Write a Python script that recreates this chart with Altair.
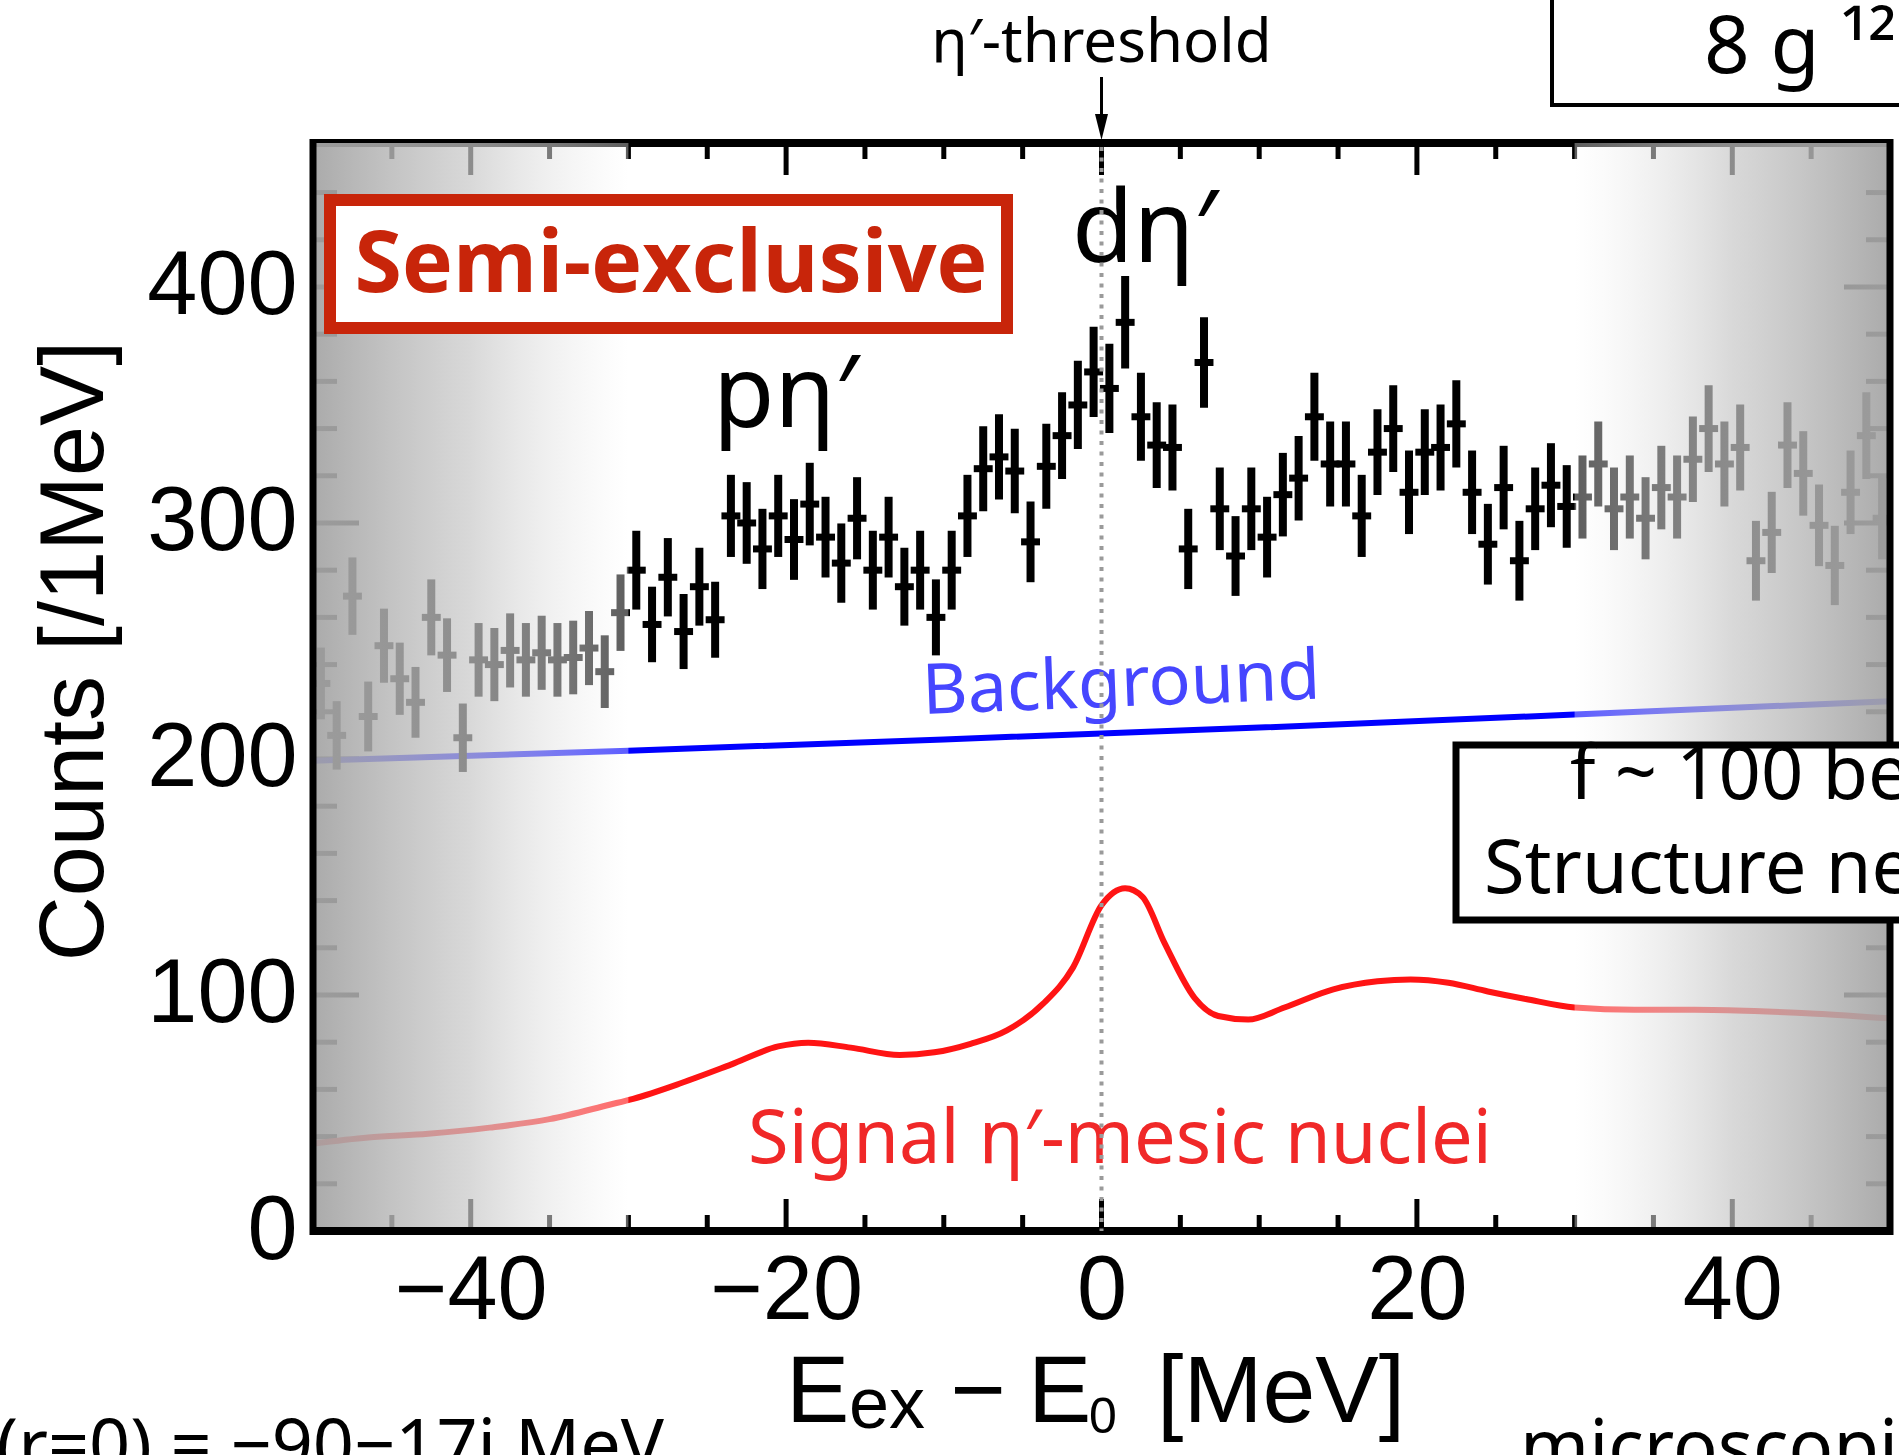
import altair as alt
import pandas as pd

# ---------------- data ----------------
BIN_LOW = -50.0      # first bin lower edge [MeV]
BIN_WIDTH = 1.0      # [MeV]
counts = [
    232, 210, 269, 218, 248, 234, 224, 260, 244, 209,
    242, 240, 246, 242, 245, 242, 243, 247, 237, 262,
    280, 257, 277, 254, 273, 259, 303, 300, 289, 303,
    293, 308, 294, 283, 302, 280, 294, 273, 280, 260,
    280, 303, 323, 328, 322, 292, 324, 337, 350, 364,
    357, 385, 345, 333, 332, 289, 368, 306, 286, 306,
    294, 312, 319, 345, 325, 325, 303, 330, 340, 313,
    330, 332, 342, 313, 291, 315, 284, 306, 316, 307,
    311, 325, 306, 311, 302, 315, 311, 327, 340, 325,
    332, 284, 296, 333, 321, 299, 282, 313, 337, 302,
]
errors = [
    15.2, 14.5, 16.4, 14.8, 15.7, 15.3, 15.0, 16.1, 15.6, 14.5,
    15.6, 15.5, 15.7, 15.6, 15.7, 15.6, 15.6, 15.7, 15.4, 16.2,
    16.7, 16.0, 16.6, 15.9, 16.5, 16.1, 17.4, 17.3, 17.0, 17.4,
    17.1, 17.5, 17.1, 16.8, 17.4, 16.7, 17.1, 16.5, 16.7, 16.1,
    16.7, 17.4, 18.0, 18.1, 17.9, 17.1, 18.0, 18.4, 18.7, 19.1,
    18.9, 19.6, 18.6, 18.2, 18.2, 17.0, 19.2, 17.5, 16.9, 17.5,
    17.1, 17.7, 17.9, 18.6, 18.0, 18.0, 17.4, 18.2, 18.4, 17.7,
    18.2, 18.2, 18.5, 17.7, 17.1, 17.7, 16.9, 17.5, 17.8, 17.5,
    17.6, 18.0, 17.5, 17.6, 17.4, 17.7, 17.6, 18.1, 18.4, 18.0,
    18.2, 16.9, 17.2, 18.2, 17.9, 17.3, 16.8, 17.7, 18.4, 17.4,
]

bg_energy = [-50, -30, -10, 10, 30, 50]
bg_counts = [199.3, 203.5, 208.3, 213.3, 218.8, 224.5]

sig_energy = [-50, -46.5, -42.7, -38.8, -35, -31.2, -29.7, -26.6, -23.5, -20.5,
              -18.6, -15.9, -12.8, -10.6, -8.3, -6, -3.7, -1.8, 0, 1.5,
              2.6, 4, 5.9, 7.4, 9.3, 11.6, 14.7, 17.5, 19.6, 22,
              24.5, 26.9, 30, 33.8, 37.6, 41.4, 45.3, 50]
sig_counts = [37, 39.6, 41.2, 43.8, 47.4, 53.5, 56, 62.8, 70.5, 78.2,
              79.8, 77.7, 74.6, 75.7, 79.3, 85, 96.3, 111.7, 138, 145.2,
              141.6, 122, 98.8, 91.1, 89.6, 94.7, 102.4, 105.8, 106.6, 105.2,
              101.5, 98.3, 94.7, 93.7, 93.7, 93.2, 92.1, 90.1]

x_labels = [-40, -20, 0, 20, 40]
y_labels = [0, 100, 200, 300, 400]
x_major = [-40, -20, 0, 20, 40]
x_minor = [-45, -35, -30, -25, -15, -10, -5, 5, 10, 15, 25, 30, 35, 45]
y_major = [100, 200, 300, 400]
y_minor = [20, 40, 60, 80, 120, 140, 160, 180, 220, 240, 260, 280,
           320, 340, 360, 380, 420, 440]
shade_left = [-50, -30]
shade_right = [30, 50]
threshold = [0]

# ---------------- layout / style ----------------
W, H = 1577, 1088
PAD_L, PAD_T = 313, 143
XS = alt.Scale(domain=[-50, 50], nice=False, zero=False)
YS = alt.Scale(domain=[0, 461], nice=False, zero=False)
NUMFONT = "Liberation Sans"
TXTFONT = "Noto Sans"
AX = alt.Axis(values=x_labels, title=None, domain=False, ticks=False, grid=False,
              labelFont=NUMFONT, labelFontSize=90, labelColor="black",
              labelPadding=16, labelFlush=False, labelOverlap=False)
AY = alt.Axis(values=y_labels, title=None, domain=False, ticks=False, grid=False,
              labelFont=NUMFONT, labelFontSize=90, labelColor="black",
              labelPadding=16, labelFlush=False, labelOverlap=False)


def X(f):
    return alt.X(f, type="quantitative", scale=XS, axis=AX)


def Y(f):
    return alt.Y(f, type="quantitative", scale=YS, axis=AY)


energy = [BIN_LOW + BIN_WIDTH * (i + 0.5) for i in range(len(counts))]
df = pd.DataFrame({"E": energy, "N": counts, "err": errors})
df["lo"] = df["N"] - df["err"]
df["hi"] = df["N"] + df["err"]
df["xl"] = df["E"] - 0.6 * BIN_WIDTH
df["xr"] = df["E"] + 0.6 * BIN_WIDTH

bg_df = pd.DataFrame({"E": bg_energy, "N": bg_counts})
sig_df = pd.DataFrame({"E": sig_energy, "N": sig_counts})
thr_df = pd.DataFrame({"E": threshold})
one = pd.DataFrame({"k": [0]})

layers = []

# ticks (inward), drawn beneath the shading
for vals, ln in ((x_major, 32), (x_minor, 16)):
    d = pd.DataFrame({"t": vals})
    layers.append(alt.Chart(d).mark_rule(color="black", strokeWidth=5).encode(
        x=X("t"), y=alt.value(H), y2=alt.value(H - ln)))
    layers.append(alt.Chart(d).mark_rule(color="black", strokeWidth=5).encode(
        x=X("t"), y=alt.value(0), y2=alt.value(ln)))
for vals, ln in ((y_major, 46), (y_minor, 24)):
    d = pd.DataFrame({"t": vals})
    layers.append(alt.Chart(d).mark_rule(color="black", strokeWidth=5).encode(
        y=Y("t"), x=alt.value(0), x2=alt.value(ln)))
    layers.append(alt.Chart(d).mark_rule(color="black", strokeWidth=5).encode(
        y=Y("t"), x=alt.value(W), x2=alt.value(W - ln)))

# top frame line
layers.append(alt.Chart(one).mark_rule(color="black", strokeWidth=8).encode(
    x=alt.value(-3), x2=alt.value(W + 3), y=alt.value(0)))

# background & signal curves
layers.append(alt.Chart(bg_df).mark_line(color="#0000ff", strokeWidth=6).encode(
    x=X("E"), y=Y("N")))
layers.append(alt.Chart(sig_df).mark_line(color="#ff1414", strokeWidth=6,
                                          interpolate="monotone").encode(
    x=X("E"), y=Y("N")))

# data with error bars
layers.append(alt.Chart(df).mark_rule(color="black", strokeWidth=8).encode(
    x=X("E"), y=Y("lo"), y2="hi"))
layers.append(alt.Chart(df).mark_rule(color="black", strokeWidth=7).encode(
    x=X("xl"), x2="xr", y=Y("N")))

# fading shaded regions at both ends
grad_left = {"gradient": "linear", "x1": 0, "y1": 0, "x2": 1, "y2": 0,
             "stops": [{"offset": 0, "color": "rgba(165,165,165,0.94)"},
                       {"offset": 0.5, "color": "rgba(200,200,200,0.70)"},
                       {"offset": 1, "color": "rgba(255,255,255,0.37)"}]}
grad_right = {"gradient": "linear", "x1": 0, "y1": 0, "x2": 1, "y2": 0,
              "stops": [{"offset": 0, "color": "rgba(255,255,255,0.37)"},
                        {"offset": 0.5, "color": "rgba(200,200,200,0.70)"},
                        {"offset": 1, "color": "rgba(165,165,165,0.94)"}]}
for rng, g in ((shade_left, grad_left), (shade_right, grad_right)):
    d = pd.DataFrame({"a": [rng[0]], "b": [rng[1]]})
    layers.append(alt.Chart(d).mark_rect(fill=g, strokeWidth=0).encode(
        x=X("a"), x2="b", y=alt.value(0), y2=alt.value(H)))

# frame: left, right, bottom on top
layers.append(alt.Chart(one).mark_rule(color="black", strokeWidth=7).encode(
    x=alt.value(0), y=alt.value(-4), y2=alt.value(H + 4)))
layers.append(alt.Chart(one).mark_rule(color="black", strokeWidth=7).encode(
    x=alt.value(W), y=alt.value(-4), y2=alt.value(H + 4)))
layers.append(alt.Chart(one).mark_rule(color="black", strokeWidth=8).encode(
    x=alt.value(-3), x2=alt.value(W + 3), y=alt.value(H)))


def txt(text, x, y, size, color="black", font=TXTFONT, align="left",
        angle=None, weight=None):
    kw = dict(text=text, font=font, fontSize=size, color=color, align=align,
              baseline="alphabetic")
    if angle is not None:
        kw["angle"] = angle
    if weight is not None:
        kw["fontWeight"] = weight
    return alt.Chart(one).mark_text(**kw).encode(x=alt.value(x), y=alt.value(y))


# annotations inside the plot
layers.append(txt("Background", 610, 571, 70, color="#4646ff", angle=357.8))
layers.append(txt("Signal η′-mesic nuclei", 435, 1020, 74, color="#f02828"))
layers.append(txt("pη′", 400, 284, 100))
layers.append(txt("dη′", 759, 119, 100))

# dotted threshold line
layers.append(alt.Chart(thr_df).mark_rule(color="#9a9a9a", strokeWidth=4,
                                          strokeDash=[4, 6.5]).encode(
    x=X("E"), y=alt.value(4), y2=alt.value(H)))

# Semi-exclusive box
layers.append(alt.Chart(one).mark_rect(fill="white", stroke="#c8250a",
                                       strokeWidth=12).encode(
    x=alt.value(17), x2=alt.value(694), y=alt.value(57), y2=alt.value(185)))
layers.append(txt("Semi-exclusive", 358, 149, 86, color="#c8250a",
                  font="Open Sans", align="center", weight="bold"))

# threshold arrow + label
layers.append(alt.Chart(thr_df).mark_rule(color="black", strokeWidth=3).encode(
    x=X("E"), y=alt.value(-66), y2=alt.value(-22)))
layers.append(alt.Chart(thr_df).mark_point(shape="M-0.5,-1L0.5,-1L0,1Z", size=676,
                                           filled=True, color="black", opacity=1,
                                           strokeWidth=0).encode(
    x=X("E"), y=alt.value(-16)))
layers.append(alt.Chart(thr_df).mark_text(text="η′-threshold", font=TXTFONT,
                                          fontSize=60, align="center",
                                          baseline="alphabetic",
                                          color="black").encode(
    x=X("E"), y=alt.value(-81)))

# slide fragments around the chart
layers.append(alt.Chart(one).mark_rect(fill="white", stroke="black",
                                       strokeWidth=4).encode(
    x=alt.value(1239), x2=alt.value(1700), y=alt.value(-170), y2=alt.value(-38)))
layers.append(txt("8 g ¹²C target", 1391, -70, 80))
layers.append(alt.Chart(one).mark_rect(fill="white", stroke="black",
                                       strokeWidth=7).encode(
    x=alt.value(1143), x2=alt.value(1700), y=alt.value(602), y2=alt.value(777)))
layers.append(txt("f ~ 100 better", 1257, 656, 74))
layers.append(txt("Structure near threshold", 1171, 750, 74))
layers.append(txt("V(r=0) = −90−17i MeV", 351, 1327, 72, align="right"))
layers.append(txt("microscopic calculation", 1207, 1330, 74))

# axis titles
layers.append(txt("Counts [/1MeV]", -210, 508, 90, font=NUMFONT, align="center",
                  angle=270))
layers.append(txt("E", 473, 1279, 95, font=NUMFONT))
layers.append(txt("ex", 536, 1285, 72, font=NUMFONT))
layers.append(txt("−", 665, 1279, 95, font=NUMFONT, align="center"))
layers.append(txt("E", 715, 1279, 95, font=NUMFONT))
layers.append(txt("0", 776, 1290, 50, font=NUMFONT))
layers.append(txt("[MeV]", 844, 1279, 95, font=NUMFONT))

chart = alt.layer(*layers).properties(
    width=W, height=H,
    autosize=alt.AutoSizeParams(type="none"),
    padding={"left": PAD_L, "top": PAD_T, "right": 1899 - PAD_L - W,
             "bottom": 1455 - PAD_T - H},
).configure_view(stroke=None)

chart.save("out.html", embed_options={"renderer": "svg", "actions": False})
